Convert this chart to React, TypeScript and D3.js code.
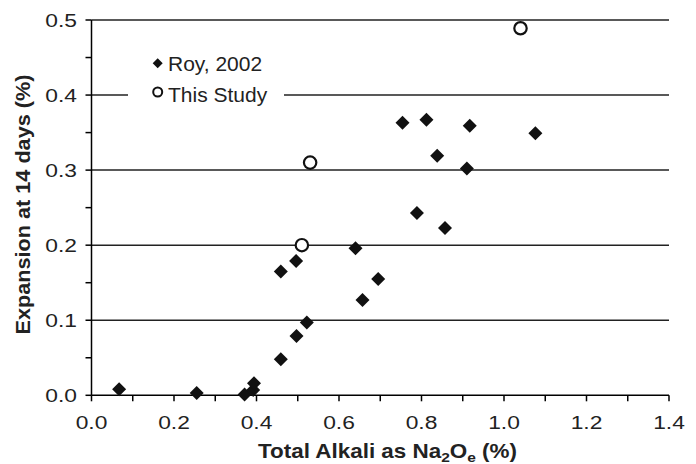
import React from "react";
import * as d3 from "d3";

const royX = [0.067, 0.255, 0.371, 0.392, 0.394, 0.459, 0.496, 0.522, 0.497, 0.459, 0.640, 0.695, 0.657, 0.754, 0.812, 0.917, 1.076, 0.838, 0.910, 0.789, 0.857];
const royY = [0.008, 0.003, 0.001, 0.007, 0.016, 0.165, 0.179, 0.097, 0.079, 0.048, 0.196, 0.155, 0.127, 0.363, 0.367, 0.359, 0.349, 0.319, 0.302, 0.243, 0.223];
const studyX = [0.510, 0.530, 1.040];
const studyY = [0.200, 0.310, 0.489];
const xTicks = [0, 0.2, 0.4, 0.6, 0.8, 1.0, 1.2, 1.4];
const xMinor = [0.1, 0.3, 0.5, 0.7, 0.9, 1.1, 1.3];
const yTicks = [0, 0.1, 0.2, 0.3, 0.4, 0.5];
const yMinor = [0.05, 0.15, 0.25, 0.35, 0.45];
const legendLabels = ["Roy, 2002", "This Study"];

const W = 696, H = 464;
const L = 91.5, R = 669, T = 20, B = 395.3;
const FONT = "'Liberation Sans', Arial, Helvetica, sans-serif";

export default function App() {
  const x = d3.scaleLinear().domain([0, 1.4]).range([L, R]);
  const y = d3.scaleLinear().domain([0, 0.5]).range([B, T]);
  const diamond = (s: number) => `M0,${-s}L${s},0L0,${s}L${-s},0Z`;
  return (
    <svg width={W} height={H} style={{ position: "absolute", left: 0, top: 0, background: "#fff" }} fontFamily={FONT}>
      <rect x={0} y={0} width={W} height={H} fill="#fff" />
      {yTicks.filter(v => v > 0).map(v => (
        <line key={"g" + v} x1={L} x2={R} y1={y(v)} y2={y(v)} stroke="#222" strokeWidth={1.5} />
      ))}
      {/* legend background */}
      <rect x={128} y={44} width={156} height={66} fill="#fff" />
      {/* axes */}
      <line x1={L} x2={L} y1={T} y2={B} stroke="#000" strokeWidth={1.5} />
      <line x1={L} x2={R} y1={B} y2={B} stroke="#000" strokeWidth={1.5} />
      {yTicks.concat(yMinor).map(v => (
        <line key={"yt" + v} x1={L - 6} x2={L} y1={y(v)} y2={y(v)} stroke="#000" strokeWidth={1.5} />
      ))}
      {xTicks.concat(xMinor).map(v => (
        <line key={"xt" + v} x1={x(v)} x2={x(v)} y1={B} y2={B + 6} stroke="#000" strokeWidth={1.5} />
      ))}
      {yTicks.map(v => (
        <g key={"yl" + v} transform={`translate(77,${y(v) + 6.8}) scale(1.2,1)`}>
          <text textAnchor="end" fontSize={19} fill="#222">{d3.format(".1f")(v)}</text>
        </g>
      ))}
      {xTicks.map(v => (
        <g key={"xl" + v} transform={`translate(${x(v)},428.7) scale(1.2,1)`}>
          <text textAnchor="middle" fontSize={19} fill="#222">{d3.format(".1f")(v)}</text>
        </g>
      ))}
      <g transform="translate(387.5,458) scale(1.15,1)">
        <text textAnchor="middle" fontSize={19.5} fontWeight="bold" fill="#222">
          Total Alkali as Na<tspan fontSize={13.5} dy={4}>2</tspan><tspan dy={-4}>O</tspan><tspan fontSize={13.5} dy={4}>e</tspan><tspan dy={-4}> (%)</tspan>
        </text>
      </g>
      <g transform="translate(30,204.5) rotate(-90) scale(1.11,1)">
        <text textAnchor="middle" fontSize={19.5} fontWeight="bold" fill="#222">
          Expansion at 14 days (%)
        </text>
      </g>
      {/* data */}
      {royX.map((v, i) => (
        <path key={"r" + i} d={diamond(7)} transform={`translate(${x(v)},${y(royY[i])})`} fill="#111" />
      ))}
      {studyX.map((v, i) => (
        <circle key={"s" + i} cx={x(v)} cy={y(studyY[i])} r={6.2} fill="#fff" stroke="#111" strokeWidth={2.2} />
      ))}
      {/* legend */}
      <path d={diamond(5)} transform="translate(157.7,63.3)" fill="#111" />
      <g transform="translate(168,71) scale(1.05,1)">
        <text fontSize={20} fill="#222">{legendLabels[0]}</text>
      </g>
      <circle cx={157.7} cy={92} r={4.5} fill="#fff" stroke="#111" strokeWidth={2} />
      <g transform="translate(168,101.5) scale(1.05,1)">
        <text fontSize={20} fill="#222">{legendLabels[1]}</text>
      </g>
    </svg>
  );
}
